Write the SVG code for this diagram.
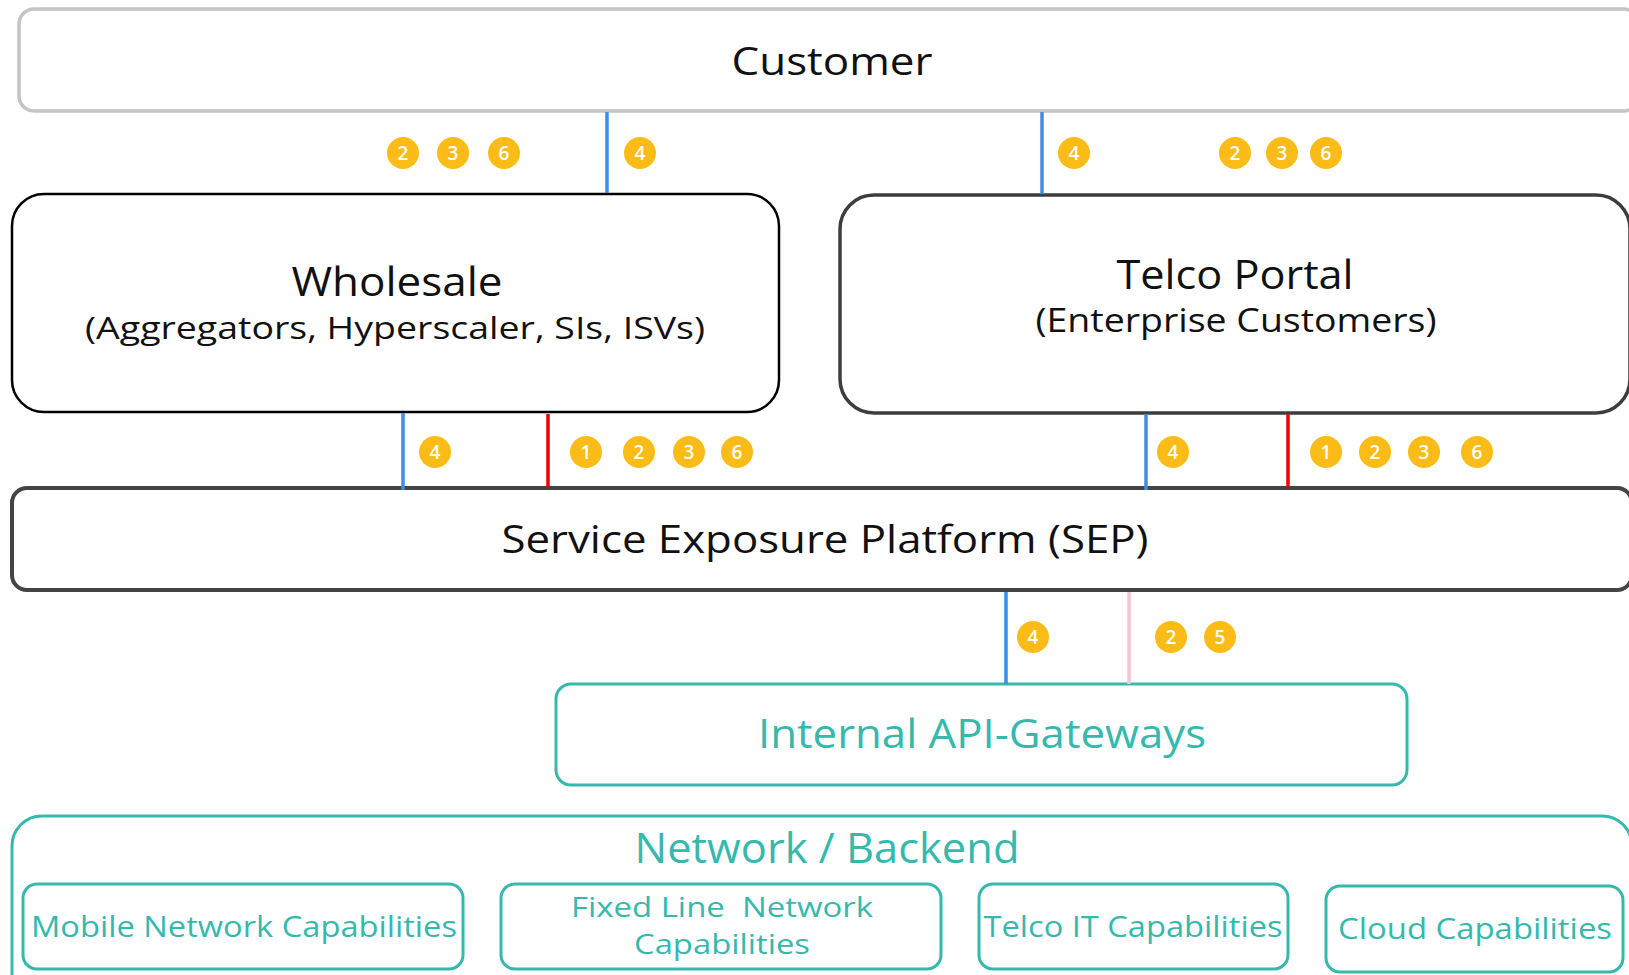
<svg xmlns="http://www.w3.org/2000/svg" width="1629" height="975" viewBox="0 0 1629 975">
<defs>
<style>
.lbl{font-family:"Open Sans","Liberation Sans",sans-serif;fill:#111;text-anchor:middle}
.teal{font-family:"Open Sans","Liberation Sans",sans-serif;fill:#36b9ad;text-anchor:middle}
.tbox{fill:#fff;stroke:#36b9ad;stroke-width:3}
.badge circle{fill:#fbbc18}
.badge text{font-family:"Open Sans","Liberation Sans",sans-serif;font-size:19px;font-weight:600;fill:#fff;text-anchor:middle}
.blue{stroke:#3d8ee6;stroke-width:3.5}
.red{stroke:#f00000;stroke-width:3.5}
.pink{stroke:#f5c4d6;stroke-width:3.5}
</style>
</defs>
<rect width="1629" height="975" fill="#fff"/>

<g id="customer">
<rect x="19" y="9" width="1620" height="102" rx="15" fill="#fff" stroke="#c4c4c4" stroke-width="3.5"/>
<text class="lbl" x="832" y="75" font-size="39" textLength="201" lengthAdjust="spacingAndGlyphs">Customer</text>
</g>

<g id="wholesale">
<rect x="12" y="194" width="767" height="218" rx="32" fill="#fff" stroke="#000" stroke-width="2.5"/>
<text class="lbl" x="397" y="296" font-size="40" textLength="211" lengthAdjust="spacingAndGlyphs">Wholesale</text>
<text class="lbl" x="395" y="339" font-size="31" textLength="620" lengthAdjust="spacingAndGlyphs">(Aggregators, Hyperscaler, SIs, ISVs)</text>
</g>

<g id="telco-portal">
<rect x="840" y="195" width="790" height="218" rx="34" fill="#fff" stroke="#3d3d3d" stroke-width="3.5"/>
<text class="lbl" x="1235" y="289" font-size="40" textLength="237" lengthAdjust="spacingAndGlyphs">Telco Portal</text>
<text class="lbl" x="1236" y="332" font-size="32" textLength="401" lengthAdjust="spacingAndGlyphs">(Enterprise Customers)</text>
</g>

<g id="sep">
<rect x="12" y="488" width="1620" height="102" rx="15" fill="#fff" stroke="#444" stroke-width="4"/>
<text class="lbl" x="825" y="553" font-size="39" textLength="647" lengthAdjust="spacingAndGlyphs">Service Exposure Platform (SEP)</text>
</g>

<g id="internal-api-gateways">
<rect class="tbox" x="556" y="684" width="851" height="101" rx="15"/>
<text class="teal" x="982" y="748" font-size="40" textLength="448" lengthAdjust="spacingAndGlyphs">Internal API-Gateways</text>
</g>

<g id="network-backend">
<rect class="tbox" x="12" y="816" width="1620" height="200" rx="30"/>
<text class="teal" x="827" y="863" font-size="42" textLength="385" lengthAdjust="spacingAndGlyphs">Network / Backend</text>
</g>

<g id="mobile">
<rect class="tbox" x="23" y="884" width="440" height="85" rx="14"/>
<text class="teal" x="244" y="937" font-size="30" textLength="426" lengthAdjust="spacingAndGlyphs">Mobile Network Capabilities</text>
</g>

<g id="fixed-line">
<rect class="tbox" x="501" y="884" width="440" height="85" rx="14"/>
<text class="teal" x="722" y="917" font-size="28" textLength="302" lengthAdjust="spacingAndGlyphs" xml:space="preserve">Fixed Line  Network</text>
<text class="teal" x="722" y="954" font-size="28" textLength="176" lengthAdjust="spacingAndGlyphs">Capabilities</text>
</g>

<g id="telco-it">
<rect class="tbox" x="979" y="884" width="309" height="85" rx="14"/>
<text class="teal" x="1133" y="937" font-size="30" textLength="299" lengthAdjust="spacingAndGlyphs">Telco IT Capabilities</text>
</g>

<g id="cloud">
<rect class="tbox" x="1326" y="886" width="297" height="86" rx="14"/>
<text class="teal" x="1475" y="939" font-size="30" textLength="274" lengthAdjust="spacingAndGlyphs">Cloud Capabilities</text>
</g>

<g id="connectors">
<line class="blue" x1="607" y1="112" x2="607" y2="193"/>
<line class="blue" x1="1042" y1="112" x2="1042" y2="194"/>
<line class="blue" x1="403" y1="413" x2="403" y2="490"/>
<line class="red" x1="548" y1="414" x2="548" y2="487"/>
<line class="blue" x1="1146" y1="414" x2="1146" y2="490"/>
<line class="red" x1="1288" y1="414" x2="1288" y2="487"/>
<line class="blue" x1="1006" y1="592" x2="1006" y2="684"/>
<line class="pink" x1="1129" y1="592" x2="1129" y2="684"/>
</g>

<g id="badges" class="badge">
<circle cx="403" cy="153" r="16"/><text x="403" y="160">2</text>
<circle cx="453" cy="153" r="16"/><text x="453" y="160">3</text>
<circle cx="504" cy="153" r="16"/><text x="504" y="160">6</text>
<circle cx="640" cy="153" r="16"/><text x="640" y="160">4</text>
<circle cx="1074" cy="153" r="16"/><text x="1074" y="160">4</text>
<circle cx="1235" cy="153" r="16"/><text x="1235" y="160">2</text>
<circle cx="1282" cy="153" r="16"/><text x="1282" y="160">3</text>
<circle cx="1326" cy="153" r="16"/><text x="1326" y="160">6</text>
<circle cx="435" cy="452" r="16"/><text x="435" y="459">4</text>
<circle cx="586" cy="452" r="16"/><text x="586" y="459">1</text>
<circle cx="639" cy="452" r="16"/><text x="639" y="459">2</text>
<circle cx="689" cy="452" r="16"/><text x="689" y="459">3</text>
<circle cx="737" cy="452" r="16"/><text x="737" y="459">6</text>
<circle cx="1173" cy="452" r="16"/><text x="1173" y="459">4</text>
<circle cx="1326" cy="452" r="16"/><text x="1326" y="459">1</text>
<circle cx="1375" cy="452" r="16"/><text x="1375" y="459">2</text>
<circle cx="1424" cy="452" r="16"/><text x="1424" y="459">3</text>
<circle cx="1477" cy="452" r="16"/><text x="1477" y="459">6</text>
<circle cx="1033" cy="637" r="16"/><text x="1033" y="644">4</text>
<circle cx="1171" cy="637" r="16"/><text x="1171" y="644">2</text>
<circle cx="1220" cy="637" r="16"/><text x="1220" y="644">5</text>
</g>
</svg>
